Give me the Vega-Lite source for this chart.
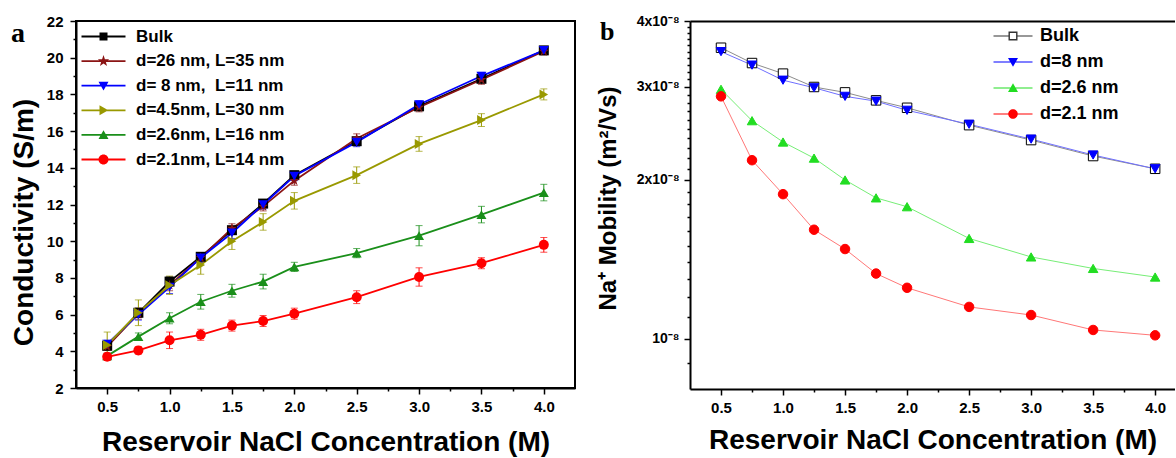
{
  "$schema": "https://vega.github.io/schema/vega-lite/v6.json",
  "padding": {"left": 8, "top": 13, "right": 0, "bottom": 0},
  "spacing": 115,
  "bounds": "flush",
  "config": {
    "font": "Liberation Sans",
    "view": {"stroke": "black", "strokeWidth": 2},
    "axis": {"domainColor": "black", "domainWidth": 2, "tickColor": "black", "tickWidth": 1.5, "labelColor": "black", "labelFont": "Liberation Sans", "labelFontWeight": "bold", "titleFont": "Liberation Sans", "titleFontWeight": "bold", "titleColor": "black", "grid": false, "labelFontSize": 15, "tickSize": 6}
  },
  "datasets": {
    "cond": [
      {"s": "Bulk", "c": 0.5, "v": 4.3, "e": 0.2}, {"s": "Bulk", "c": 0.75, "v": 6.1, "e": 0.25}, {"s": "Bulk", "c": 1.0, "v": 7.8, "e": 0.25}, {"s": "Bulk", "c": 1.25, "v": 9.15, "e": 0.2}, {"s": "Bulk", "c": 1.5, "v": 10.6, "e": 0.2}, {"s": "Bulk", "c": 1.75, "v": 12.05, "e": 0.2}, {"s": "Bulk", "c": 2.0, "v": 13.6, "e": 0.2}, {"s": "Bulk", "c": 2.5, "v": 15.45, "e": 0.2}, {"s": "Bulk", "c": 3.0, "v": 17.35, "e": 0.2}, {"s": "Bulk", "c": 3.5, "v": 18.85, "e": 0.2}, {"s": "Bulk", "c": 4.0, "v": 20.4, "e": 0.2},
      {"s": "d=26 nm, L=35 nm", "c": 0.5, "v": 4.25, "e": 0.2}, {"s": "d=26 nm, L=35 nm", "c": 0.75, "v": 6.05, "e": 0.3}, {"s": "d=26 nm, L=35 nm", "c": 1.0, "v": 7.6, "e": 0.3}, {"s": "d=26 nm, L=35 nm", "c": 1.25, "v": 9.1, "e": 0.25}, {"s": "d=26 nm, L=35 nm", "c": 1.5, "v": 10.7, "e": 0.25}, {"s": "d=26 nm, L=35 nm", "c": 1.75, "v": 11.9, "e": 0.25}, {"s": "d=26 nm, L=35 nm", "c": 2.0, "v": 13.3, "e": 0.25}, {"s": "d=26 nm, L=35 nm", "c": 2.5, "v": 15.6, "e": 0.25}, {"s": "d=26 nm, L=35 nm", "c": 3.0, "v": 17.3, "e": 0.25}, {"s": "d=26 nm, L=35 nm", "c": 3.5, "v": 18.8, "e": 0.25}, {"s": "d=26 nm, L=35 nm", "c": 4.0, "v": 20.35, "e": 0.2},
      {"s": "d= 8 nm,\u00a0 L=11 nm", "c": 0.5, "v": 4.4, "e": 0.2}, {"s": "d= 8 nm,\u00a0 L=11 nm", "c": 0.75, "v": 6.0, "e": 0.3}, {"s": "d= 8 nm,\u00a0 L=11 nm", "c": 1.0, "v": 7.5, "e": 0.35}, {"s": "d= 8 nm,\u00a0 L=11 nm", "c": 1.25, "v": 9.1, "e": 0.25}, {"s": "d= 8 nm,\u00a0 L=11 nm", "c": 1.5, "v": 10.45, "e": 0.3}, {"s": "d= 8 nm,\u00a0 L=11 nm", "c": 1.75, "v": 12.0, "e": 0.25}, {"s": "d= 8 nm,\u00a0 L=11 nm", "c": 2.0, "v": 13.55, "e": 0.25}, {"s": "d= 8 nm,\u00a0 L=11 nm", "c": 2.5, "v": 15.4, "e": 0.25}, {"s": "d= 8 nm,\u00a0 L=11 nm", "c": 3.0, "v": 17.45, "e": 0.2}, {"s": "d= 8 nm,\u00a0 L=11 nm", "c": 3.5, "v": 19.0, "e": 0.2}, {"s": "d= 8 nm,\u00a0 L=11 nm", "c": 4.0, "v": 20.4, "e": 0.2},
      {"s": "d=4.5nm, L=30 nm", "c": 0.5, "v": 4.35, "e": 0.7}, {"s": "d=4.5nm, L=30 nm", "c": 0.75, "v": 6.1, "e": 0.7}, {"s": "d=4.5nm, L=30 nm", "c": 1.0, "v": 7.6, "e": 0.5}, {"s": "d=4.5nm, L=30 nm", "c": 1.25, "v": 8.7, "e": 0.5}, {"s": "d=4.5nm, L=30 nm", "c": 1.5, "v": 10.0, "e": 0.45}, {"s": "d=4.5nm, L=30 nm", "c": 1.75, "v": 11.05, "e": 0.45}, {"s": "d=4.5nm, L=30 nm", "c": 2.0, "v": 12.2, "e": 0.45}, {"s": "d=4.5nm, L=30 nm", "c": 2.5, "v": 13.6, "e": 0.45}, {"s": "d=4.5nm, L=30 nm", "c": 3.0, "v": 15.3, "e": 0.4}, {"s": "d=4.5nm, L=30 nm", "c": 3.5, "v": 16.6, "e": 0.35}, {"s": "d=4.5nm, L=30 nm", "c": 4.0, "v": 18.0, "e": 0.3},
      {"s": "d=2.6nm, L=16 nm", "c": 0.5, "v": 3.75, "e": 0.15}, {"s": "d=2.6nm, L=16 nm", "c": 0.75, "v": 4.8, "e": 0.2}, {"s": "d=2.6nm, L=16 nm", "c": 1.0, "v": 5.8, "e": 0.3}, {"s": "d=2.6nm, L=16 nm", "c": 1.25, "v": 6.7, "e": 0.4}, {"s": "d=2.6nm, L=16 nm", "c": 1.5, "v": 7.3, "e": 0.35}, {"s": "d=2.6nm, L=16 nm", "c": 1.75, "v": 7.8, "e": 0.4}, {"s": "d=2.6nm, L=16 nm", "c": 2.0, "v": 8.6, "e": 0.25}, {"s": "d=2.6nm, L=16 nm", "c": 2.5, "v": 9.35, "e": 0.25}, {"s": "d=2.6nm, L=16 nm", "c": 3.0, "v": 10.3, "e": 0.55}, {"s": "d=2.6nm, L=16 nm", "c": 3.5, "v": 11.45, "e": 0.45}, {"s": "d=2.6nm, L=16 nm", "c": 4.0, "v": 12.65, "e": 0.45},
      {"s": "d=2.1nm, L=14 nm", "c": 0.5, "v": 3.7, "e": 0.2}, {"s": "d=2.1nm, L=14 nm", "c": 0.75, "v": 4.05, "e": 0.2}, {"s": "d=2.1nm, L=14 nm", "c": 1.0, "v": 4.6, "e": 0.45}, {"s": "d=2.1nm, L=14 nm", "c": 1.25, "v": 4.9, "e": 0.3}, {"s": "d=2.1nm, L=14 nm", "c": 1.5, "v": 5.4, "e": 0.3}, {"s": "d=2.1nm, L=14 nm", "c": 1.75, "v": 5.65, "e": 0.3}, {"s": "d=2.1nm, L=14 nm", "c": 2.0, "v": 6.05, "e": 0.3}, {"s": "d=2.1nm, L=14 nm", "c": 2.5, "v": 6.95, "e": 0.35}, {"s": "d=2.1nm, L=14 nm", "c": 3.0, "v": 8.05, "e": 0.5}, {"s": "d=2.1nm, L=14 nm", "c": 3.5, "v": 8.8, "e": 0.3}, {"s": "d=2.1nm, L=14 nm", "c": 4.0, "v": 9.8, "e": 0.4}
    ],
    "mob": [
      {"s": "Bulk", "c": 0.5, "v": 3.56e-8}, {"s": "Bulk", "c": 0.75, "v": 3.33e-8}, {"s": "Bulk", "c": 1.0, "v": 3.18e-8}, {"s": "Bulk", "c": 1.25, "v": 3.0e-8}, {"s": "Bulk", "c": 1.5, "v": 2.93e-8}, {"s": "Bulk", "c": 1.75, "v": 2.83e-8}, {"s": "Bulk", "c": 2.0, "v": 2.74e-8}, {"s": "Bulk", "c": 2.5, "v": 2.54e-8}, {"s": "Bulk", "c": 3.0, "v": 2.38e-8}, {"s": "Bulk", "c": 3.5, "v": 2.22e-8}, {"s": "Bulk", "c": 4.0, "v": 2.1e-8},
      {"s": "d=8 nm", "c": 0.5, "v": 3.5e-8}, {"s": "d=8 nm", "c": 0.75, "v": 3.3e-8}, {"s": "d=8 nm", "c": 1.0, "v": 3.09e-8}, {"s": "d=8 nm", "c": 1.25, "v": 2.99e-8}, {"s": "d=8 nm", "c": 1.5, "v": 2.88e-8}, {"s": "d=8 nm", "c": 1.75, "v": 2.82e-8}, {"s": "d=8 nm", "c": 2.0, "v": 2.71e-8}, {"s": "d=8 nm", "c": 2.5, "v": 2.55e-8}, {"s": "d=8 nm", "c": 3.0, "v": 2.39e-8}, {"s": "d=8 nm", "c": 3.5, "v": 2.23e-8}, {"s": "d=8 nm", "c": 4.0, "v": 2.1e-8},
      {"s": "d=2.6 nm", "c": 0.5, "v": 2.97e-8}, {"s": "d=2.6 nm", "c": 0.75, "v": 2.59e-8}, {"s": "d=2.6 nm", "c": 1.0, "v": 2.36e-8}, {"s": "d=2.6 nm", "c": 1.25, "v": 2.2e-8}, {"s": "d=2.6 nm", "c": 1.5, "v": 2.0e-8}, {"s": "d=2.6 nm", "c": 1.75, "v": 1.85e-8}, {"s": "d=2.6 nm", "c": 2.0, "v": 1.78e-8}, {"s": "d=2.6 nm", "c": 2.5, "v": 1.55e-8}, {"s": "d=2.6 nm", "c": 3.0, "v": 1.43e-8}, {"s": "d=2.6 nm", "c": 3.5, "v": 1.36e-8}, {"s": "d=2.6 nm", "c": 4.0, "v": 1.31e-8},
      {"s": "d=2.1 nm", "c": 0.5, "v": 2.88e-8}, {"s": "d=2.1 nm", "c": 0.75, "v": 2.18e-8}, {"s": "d=2.1 nm", "c": 1.0, "v": 1.88e-8}, {"s": "d=2.1 nm", "c": 1.25, "v": 1.61e-8}, {"s": "d=2.1 nm", "c": 1.5, "v": 1.48e-8}, {"s": "d=2.1 nm", "c": 1.75, "v": 1.33e-8}, {"s": "d=2.1 nm", "c": 2.0, "v": 1.25e-8}, {"s": "d=2.1 nm", "c": 2.5, "v": 1.15e-8}, {"s": "d=2.1 nm", "c": 3.0, "v": 1.11e-8}, {"s": "d=2.1 nm", "c": 3.5, "v": 1.04e-8}, {"s": "d=2.1 nm", "c": 4.0, "v": 1.016e-8}
    ]
  },
  "hconcat": [
    {
      "width": 499,
      "height": 367,
      "data": {"name": "cond"},
      "title": {"text": "a", "font": "Liberation Serif", "fontSize": 28, "fontWeight": "bold", "color": "black", "anchor": "start", "frame": "group", "orient": "top", "offset": 0, "baseline": "alphabetic", "dx": -65, "dy": 56},
      "resolve": {"scale": {"color": "independent", "shape": "independent"}, "axis": {"x": "independent", "y": "independent"}},
      "layer": [
        {
          "mark": {"type": "errorbar", "ticks": {"size": 7}, "thickness": 1},
          "encoding": {
            "x": {"field": "c", "type": "quantitative", "scale": {"domain": [0.25, 4.25], "nice": false, "zero": false}, "axis": {"orient": "bottom", "values": [0.5, 1, 1.5, 2, 2.5, 3, 3.5, 4], "format": ".1f", "title": "Reservoir NaCl Concentration (M)", "titleFontSize": 28, "titleY": 62, "titleBaseline": "alphabetic", "labelPadding": 5}},
            "y": {"field": "v", "type": "quantitative", "scale": {"domain": [2, 22], "nice": false, "zero": false}, "axis": {"orient": "left", "values": [2, 4, 6, 8, 10, 12, 14, 16, 18, 20, 22], "title": "Conductivity (S/m)", "titleFontSize": 28, "titleX": -44, "titleY": 201, "titleAngle": 270, "titleAlign": "center", "titleBaseline": "alphabetic", "labelPadding": 7}},
            "yError": {"field": "e"},
            "color": {"field": "s", "type": "nominal", "scale": {"domain": ["Bulk", "d=26 nm, L=35 nm", "d= 8 nm,\u00a0 L=11 nm", "d=4.5nm, L=30 nm", "d=2.6nm, L=16 nm", "d=2.1nm, L=14 nm"], "range": ["#000000", "#8b1414", "#0000ff", "#999900", "#1a8f1a", "#ff0000"]}, "legend": null}
          }
        },
        {
          "mark": {"type": "line", "strokeWidth": 1.8},
          "encoding": {
            "x": {"field": "c", "type": "quantitative", "scale": {"domain": [0.25, 4.25], "nice": false, "zero": false}, "axis": null},
            "y": {"field": "v", "type": "quantitative", "scale": {"domain": [2, 22], "nice": false, "zero": false}, "axis": null},
            "color": {"field": "s", "type": "nominal", "scale": {"domain": ["Bulk", "d=26 nm, L=35 nm", "d= 8 nm,\u00a0 L=11 nm", "d=4.5nm, L=30 nm", "d=2.6nm, L=16 nm", "d=2.1nm, L=14 nm"], "range": ["#000000", "#8b1414", "#0000ff", "#999900", "#1a8f1a", "#ff0000"]}, "legend": null}
          }
        },
        {
          "mark": {"type": "point", "filled": true, "size": 100, "opacity": 1},
          "encoding": {
            "x": {"field": "c", "type": "quantitative", "scale": {"domain": [0.25, 4.25], "nice": false, "zero": false}, "axis": null},
            "y": {"field": "v", "type": "quantitative", "scale": {"domain": [2, 22], "nice": false, "zero": false}, "axis": null},
            "color": {"field": "s", "type": "nominal", "scale": {"domain": ["Bulk", "d=26 nm, L=35 nm", "d= 8 nm,\u00a0 L=11 nm", "d=4.5nm, L=30 nm", "d=2.6nm, L=16 nm", "d=2.1nm, L=14 nm"], "range": ["#000000", "#8b1414", "#0000ff", "#999900", "#1a8f1a", "#ff0000"]}, "legend": null},
            "shape": {"field": "s", "type": "nominal", "scale": {"domain": ["Bulk", "d=26 nm, L=35 nm", "d= 8 nm,\u00a0 L=11 nm", "d=4.5nm, L=30 nm", "d=2.6nm, L=16 nm", "d=2.1nm, L=14 nm"], "range": ["square", "M0,-1.05L0.247,-0.34L0.999,-0.324L0.399,0.13L0.617,0.849L0,0.42L-0.617,0.849L-0.399,0.13L-0.999,-0.324L-0.247,-0.34Z", "triangle-down", "triangle-right", "triangle-up", "circle"]}, "legend": null}
          }
        },
        {
          "mark": {"type": "point", "filled": true, "size": 100, "opacity": 0},
          "encoding": {
            "x": {"field": "c", "type": "quantitative", "scale": {"domain": [0.25, 4.25], "nice": false, "zero": false}, "axis": {"orient": "bottom", "values": [0.75, 1.25, 1.75, 2.25, 2.75, 3.25, 3.75], "labels": false, "domain": false, "tickSize": 3, "title": null}},
            "y": {"field": "v", "type": "quantitative", "scale": {"domain": [2, 22], "nice": false, "zero": false}, "axis": {"orient": "left", "values": [3, 5, 7, 9, 11, 13, 15, 17, 19, 21], "labels": false, "domain": false, "tickSize": 3, "title": null}},
            "color": {"field": "s", "type": "nominal", "scale": {"domain": ["Bulk", "d=26 nm, L=35 nm", "d= 8 nm,\u00a0 L=11 nm", "d=4.5nm, L=30 nm", "d=2.6nm, L=16 nm", "d=2.1nm, L=14 nm"], "range": ["#000000", "#8b1414", "#0000ff", "#999900", "#1a8f1a", "#ff0000"]}, "legend": {"orient": "none", "legendX": 19, "legendY": 7, "title": null, "symbolSize": 100, "labelFontSize": 17, "labelFont": "Liberation Sans", "labelFontWeight": "bold", "labelColor": "black", "labelOffset": 24, "rowPadding": 6.6, "padding": 0, "symbolOpacity": 1, "symbolStrokeWidth": 0}},
            "shape": {"field": "s", "type": "nominal", "scale": {"domain": ["Bulk", "d=26 nm, L=35 nm", "d= 8 nm,\u00a0 L=11 nm", "d=4.5nm, L=30 nm", "d=2.6nm, L=16 nm", "d=2.1nm, L=14 nm"], "range": ["M-4.4,-0.18H4.4V0.18H-4.4Z M-0.8,-0.8H0.8V0.8H-0.8Z", "M-4.4,-0.18H4.4V0.18H-4.4Z M0,-1.2L0.284,-0.39L1.149,-0.373L0.459,0.15L0.71,0.976L0,0.483L-0.71,0.976L-0.459,0.15L-1.149,-0.373L-0.284,-0.39Z", "M-4.4,-0.18H4.4V0.18H-4.4Z M-1,-0.8H1L0,0.95Z", "M-4.4,-0.18H4.4V0.18H-4.4Z M-0.8,-1L0.95,0L-0.8,1Z", "M-4.4,-0.18H4.4V0.18H-4.4Z M1,0.8H-1L0,-0.95Z", "M-4.4,-0.18H4.4V0.18H-4.4Z M-1,0A1,1 0 1,1 1,0A1,1 0 1,1 -1,0Z"]}, "legend": {"orient": "none", "legendX": 19, "legendY": 7, "title": null, "symbolSize": 100, "labelFontSize": 17, "labelFont": "Liberation Sans", "labelFontWeight": "bold", "labelColor": "black", "labelOffset": 24, "rowPadding": 6.6, "padding": 0, "symbolOpacity": 1, "symbolStrokeWidth": 0}}
          }
        }
      ]
    },
    {
      "width": 485,
      "height": 368,
      "data": {"name": "mob"},
      "view": {"stroke": null},
      "title": {"text": "b", "font": "Liberation Serif", "fontSize": 26, "fontWeight": "bold", "color": "black", "anchor": "start", "frame": "group", "orient": "top", "offset": 0, "baseline": "alphabetic", "dx": -90, "dy": 52},
      "resolve": {"scale": {"color": "independent", "shape": "independent", "fill": "independent", "stroke": "independent"}, "axis": {"x": "independent", "y": "independent"}},
      "layer": [
        {
          "mark": {"type": "line", "strokeWidth": 1},
          "encoding": {
            "x": {"field": "c", "type": "quantitative", "scale": {"domain": [0.25, 4.16], "nice": false, "zero": false}, "axis": {"orient": "bottom", "values": [0.5, 1, 1.5, 2, 2.5, 3, 3.5, 4], "format": ".1f", "title": "Reservoir NaCl Concentration (M)", "titleFontSize": 28, "titleY": 59, "titleBaseline": "alphabetic", "labelPadding": 5}},
            "y": {"field": "v", "type": "quantitative", "scale": {"type": "log", "domain": [8.04e-9, 4e-8], "nice": false}, "axis": {"orient": "left", "values": [1e-8, 2e-8, 3e-8, 4e-8], "labelExpr": "datum.value > 3.5e-8 ? '4x10⁻⁸' : datum.value > 2.5e-8 ? '3x10⁻⁸' : datum.value > 1.5e-8 ? '2x10⁻⁸' : '10⁻⁸'", "labelFontSize": 14, "labelPadding": 5, "title": "Na⁺ Mobility (m²/Vs)", "titleFontSize": 24, "titleX": -75, "titleY": 177, "titleAngle": 270, "titleAlign": "center", "titleBaseline": "alphabetic"}},
            "color": {"field": "s", "type": "nominal", "scale": {"domain": ["Bulk", "d=8 nm", "d=2.6 nm", "d=2.1 nm"], "range": ["#8c8c8c", "#6f6fff", "#77ee77", "#ff7777"]}, "legend": null}
          }
        },
        {
          "mark": {"type": "point", "filled": true, "size": 90, "strokeWidth": 1, "opacity": 1},
          "encoding": {
            "x": {"field": "c", "type": "quantitative", "scale": {"domain": [0.25, 4.16], "nice": false, "zero": false}, "axis": null},
            "y": {"field": "v", "type": "quantitative", "scale": {"type": "log", "domain": [8.04e-9, 4e-8], "nice": false}, "axis": null},
            "fill": {"field": "s", "type": "nominal", "scale": {"domain": ["Bulk", "d=8 nm", "d=2.6 nm", "d=2.1 nm"], "range": ["#ffffff", "#0000ff", "#22dd22", "#ff0000"]}, "legend": null},
            "stroke": {"field": "s", "type": "nominal", "scale": {"domain": ["Bulk", "d=8 nm", "d=2.6 nm", "d=2.1 nm"], "range": ["#000000", "#0000ff", "#22dd22", "#ff0000"]}, "legend": null},
            "shape": {"field": "s", "type": "nominal", "scale": {"domain": ["Bulk", "d=8 nm", "d=2.6 nm", "d=2.1 nm"], "range": ["square", "triangle-down", "triangle-up", "circle"]}, "legend": null}
          }
        },
        {
          "mark": {"type": "point", "filled": true, "size": 100, "opacity": 0},
          "encoding": {
            "x": {"field": "c", "type": "quantitative", "scale": {"domain": [0.25, 4.16], "nice": false, "zero": false}, "axis": {"orient": "bottom", "values": [0.75, 1.25, 1.75, 2.25, 2.75, 3.25, 3.75], "labels": false, "domain": false, "tickSize": 3, "title": null}},
            "y": {"field": "v", "type": "quantitative", "scale": {"type": "log", "domain": [8.04e-9, 4e-8], "nice": false}, "axis": {"orient": "left", "values": [9e-9, 1.1e-8, 1.2e-8, 1.3e-8, 1.4e-8, 1.5e-8, 1.6e-8, 1.7e-8, 1.8e-8, 1.9e-8, 2.1e-8, 2.2e-8, 2.3e-8, 2.4e-8, 2.5e-8, 2.6e-8, 2.7e-8, 2.8e-8, 2.9e-8, 3.1e-8, 3.2e-8, 3.3e-8, 3.4e-8, 3.5e-8, 3.6e-8, 3.7e-8, 3.8e-8, 3.9e-8], "labels": false, "domain": false, "tickSize": 3, "title": null}},
            "color": {"field": "s", "type": "nominal", "scale": {"domain": ["Bulk", "d=8 nm", "d=2.6 nm", "d=2.1 nm"], "range": ["#333333", "#0000ff", "#22dd22", "#ff0000"]}, "legend": {"orient": "none", "legendX": 314, "legendY": 6, "title": null, "symbolSize": 100, "labelFontSize": 18, "labelFont": "Liberation Sans", "labelFontWeight": "bold", "labelColor": "black", "labelOffset": 18, "rowPadding": 8, "padding": 0, "symbolOpacity": 1, "symbolStrokeWidth": 0}},
            "shape": {"field": "s", "type": "nominal", "scale": {"domain": ["Bulk", "d=8 nm", "d=2.6 nm", "d=2.1 nm"], "range": ["M-3.9,-0.12H-0.9V0.12H-3.9Z M0.9,-0.12H3.9V0.12H0.9Z M-0.9,-0.9H0.9V0.9H-0.9Z M-0.62,-0.62V0.62H0.62V-0.62Z", "M-3.9,-0.12H3.9V0.12H-3.9Z M-1,-0.8H1L0,0.95Z", "M-3.9,-0.12H3.9V0.12H-3.9Z M1,0.8H-1L0,-0.95Z", "M-3.9,-0.12H3.9V0.12H-3.9Z M-0.95,0A0.95,0.95 0 1,1 0.95,0A0.95,0.95 0 1,1 -0.95,0Z"]}, "legend": {"orient": "none", "legendX": 314, "legendY": 6, "title": null, "symbolSize": 100, "labelFontSize": 18, "labelFont": "Liberation Sans", "labelFontWeight": "bold", "labelColor": "black", "labelOffset": 18, "rowPadding": 8, "padding": 0, "symbolOpacity": 1, "symbolStrokeWidth": 0}}
          }
        },
        {
          "mark": {"type": "point", "opacity": 0},
          "encoding": {
            "x": {"field": "c", "type": "quantitative", "scale": {"domain": [0.25, 4.16], "nice": false, "zero": false}, "axis": {"orient": "top", "ticks": false, "labels": false, "domain": true, "title": null}},
            "y": {"field": "v", "type": "quantitative", "scale": {"type": "log", "domain": [8.04e-9, 4e-8], "nice": false}, "axis": null}
          }
        }
      ]
    }
  ]
}
